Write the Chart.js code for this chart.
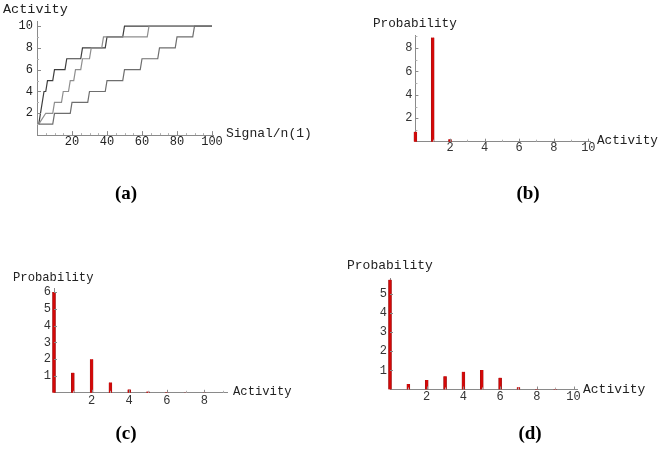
<!DOCTYPE html>
<html><head><meta charset="utf-8">
<script src="https://cdn.jsdelivr.net/npm/chart.js@4.4.0/dist/chart.umd.min.js"></script>
<style>
html,body{margin:0;padding:0;background:#fff;}
#wrap{position:relative;width:662px;height:460px;overflow:hidden;background:#fff;}
canvas{position:absolute;left:0;top:0;}
.cap{position:absolute;font:bold 19px "Liberation Serif","Times New Roman",serif;color:#000;transform:translate(-50%,-50%);white-space:nowrap;}
</style></head><body>
<div id="wrap">
<canvas id="ca" width="662" height="460" style="width:662px;height:460px"></canvas>
<canvas id="cb" width="662" height="460" style="width:662px;height:460px"></canvas>
<canvas id="cc" width="662" height="460" style="width:662px;height:460px"></canvas>
<canvas id="cd" width="662" height="460" style="width:662px;height:460px"></canvas>
<div class="cap" style="left:126px;top:193px">(a)</div>
<div class="cap" style="left:528px;top:193px">(b)</div>
<div class="cap" style="left:126px;top:433px">(c)</div>
<div class="cap" style="left:530px;top:433px">(d)</div>
</div>
<script>
// ---- data: panel (a) activity vs signal (step curves, vertices)
const signalA   = [1,4,5,6,9,10,16,17,25,26,39,40,49,50,100];
const activityA = [1,4,4,5,5,6,6,7,7,8,8,9,9,10,10];
const signalB   = [1,5,9,10,14,15,18,19,21,22,25,26,30,31,37,38,63,64,100];
const activityB = [1,2,2,3,3,4,4,5,5,6,6,7,7,8,8,9,9,10,10];
const signalC   = [1,9,10,19,20,29,30,39,40,49,50,59,60,69,70,79,80,89,90,100];
const activityC = [1,1,2,2,3,3,4,4,5,5,6,6,7,7,8,8,9,9,10,10];
const ticksA_x = [20,40,60,80,100];
const ticksA_y = [2,4,6,8,10];

// ---- data: panels (b), (c), (d) probability vs activity
const activityBins_b = [0,1,2,3,4,5,6,7,8,9,10];
const probability_b  = [0.85,8.9,0.2,0,0,0,0,0,0,0,0];
const activityBins_c = [0,1,2,3,4,5,6,7,8];
const probability_c  = [6.0,1.2,2.0,0.62,0.2,0.08,0.03,0.02,0.02];
const activityBins_d = [0,1,2,3,4,5,6,7,8,9,10];
const probability_d  = [5.75,0.29,0.5,0.69,0.93,1.02,0.62,0.12,0.02,0.02,0];
const ticksB_x = [2,4,6,8,10], ticksB_y = [2,4,6,8];
const ticksC_x = [2,4,6,8],    ticksC_y = [1,2,3,4,5,6];
const ticksD_x = [2,4,6,8,10], ticksD_y = [1,2,3,4,5];

const MONO = '"Liberation Mono","Courier New",monospace';
const W = 662, H = 460, WY = 30, HX = 20;

function decor(spec){
  return {
    id:'decor',
    afterDraw(chart){
      const {ctx, chartArea:a, scales:{x,y}} = chart;
      ctx.save();
      ctx.strokeStyle = '#8a8a8a';
      ctx.lineWidth = 1;
      ctx.beginPath();
      spec.xMajor.forEach(v=>{const p=Math.round(x.getPixelForValue(v))+0.5; ctx.moveTo(p,a.bottom); ctx.lineTo(p,a.bottom-spec.majorLen);});
      spec.yMajor.forEach(v=>{const p=Math.round(y.getPixelForValue(v))+0.5; ctx.moveTo(a.left,p); ctx.lineTo(a.left+spec.majorLen,p);});
      ctx.stroke();
      ctx.strokeStyle = '#b0b0b0';
      ctx.beginPath();
      spec.xMinor.forEach(v=>{const p=Math.round(x.getPixelForValue(v))+0.5; ctx.moveTo(p,a.bottom); ctx.lineTo(p,a.bottom-spec.minorLen);});
      spec.yMinor.forEach(v=>{const p=Math.round(y.getPixelForValue(v))+0.5; ctx.moveTo(a.left,p); ctx.lineTo(a.left+spec.minorLen,p);});
      ctx.stroke();
      ctx.fillStyle = '#222';
      ctx.textBaseline = 'middle';
      ctx.textAlign = 'left';
      spec.titles.forEach(t=>{ctx.font = t.size+'px '+MONO; ctx.fillText(t.text, t.x, t.y);});
      ctx.restore();
    }
  };
}

function makePanel(id, spec, type, datasets){
  const a = spec.area;
  new Chart(document.getElementById(id), {
    type: type,
    data: {datasets: datasets},
    options: {
      responsive:false, animation:false, devicePixelRatio:1,
      layout:{padding:{left:a.L-WY, right:W-a.R, top:a.T, bottom:H-a.B-HX}},
      plugins:{legend:{display:false}, tooltip:{enabled:false}},
      scales:{
        x:{type:'linear', min:spec.xmin, max:spec.xmax, offset:false,
           afterBuildTicks:s=>{s.ticks = spec.xMajor.map(v=>({value:v}));},
           afterFit:s=>{s.height=HX; s.paddingLeft=0; s.paddingRight=0;},
           grid:{display:true, offset:false, drawOnChartArea:false, drawTicks:false},
           border:{display:true, color:'#8a8a8a', width:1},
           ticks:{autoSkip:false, maxRotation:0, padding:spec.xPad, color:spec.tickColor,
                  font:{family:MONO, size:spec.tickSize, lineHeight:1}}},
        y:{type:'linear', min:spec.ymin, max:spec.ymax,
           afterBuildTicks:s=>{s.ticks = spec.yMajor.map(v=>({value:v}));},
           afterFit:s=>{s.width=WY; s.paddingTop=0; s.paddingBottom=0;},
           grid:{display:true, drawOnChartArea:false, drawTicks:false},
           border:{display:true, color:'#8a8a8a', width:1},
           ticks:{autoSkip:false, padding:spec.yPad, color:spec.tickColor,
                  font:{family:MONO, size:spec.tickSize, lineHeight:1}}}
      }
    },
    plugins:[decor(spec)]
  });
}

function pts(xs, ys){ return xs.map((v,i)=>({x:v, y:ys[i]})); }
function lineSet(xs, ys, color){
  return {data:pts(xs,ys), showLine:true, borderColor:color, borderWidth:1.2,
          pointRadius:0, tension:0, fill:false, clip:false};
}
function barSet(xs, ys){
  return {data:pts(xs,ys), backgroundColor:'#d40808', borderColor:'#8a1414',
          borderWidth:{left:0.5,right:0.5,top:0,bottom:0}, barThickness:3, clip:false};
}
const odd = [1,3,5,7,9];

// (a)
makePanel('ca', {
  area:{L:37, T:21.7, R:213.75, B:135.1}, xmin:0, xmax:101, ymin:0, ymax:10.4,
  xMajor:ticksA_x, yMajor:ticksA_y,
  xMinor:[5,10,15,25,30,35,45,50,55,65,70,75,85,90,95], yMinor:[1,3,5,7,9],
  majorLen:4, minorLen:2, xPad:0.6, yPad:4, tickColor:'#222', tickSize:12,
  titles:[{text:'Activity', x:3, y:9, size:13.5},{text:'Signal/n(1)', x:226, y:134, size:13}]
}, 'scatter', [
  lineSet(signalC, activityC, '#6e6e6e'),
  lineSet(signalB, activityB, '#8e8e8e'),
  lineSet(signalA, activityA, '#3e3e3e')
]);

// (b)
makePanel('cb', {
  area:{L:415.4, T:35.2, R:590.1, B:141.7}, xmin:0, xmax:10.1, ymin:0, ymax:9.1,
  xMajor:ticksB_x, yMajor:ticksB_y, xMinor:odd, yMinor:odd,
  majorLen:3, minorLen:2, xPad:0.6, yPad:3, tickColor:'#333', tickSize:12,
  titles:[{text:'Probability', x:373, y:23.5, size:12.7},{text:'Activity', x:597, y:141, size:12.7}]
}, 'bar', [barSet(activityBins_b, probability_b)]);

// (c)
makePanel('cc', {
  area:{L:54, T:288.6, R:227, B:392.8}, xmin:0, xmax:9.2, ymin:0, ymax:6.2,
  xMajor:ticksC_x, yMajor:ticksC_y, xMinor:odd, yMinor:[],
  majorLen:3, minorLen:2, xPad:2.2, yPad:3, tickColor:'#333', tickSize:12,
  titles:[{text:'Probability', x:13, y:278, size:12.2},{text:'Activity', x:233, y:392, size:12.2}]
}, 'bar', [barSet(activityBins_c, probability_c)]);

// (d)
makePanel('cd', {
  area:{L:390, T:278.3, R:577.2, B:389.5}, xmin:0, xmax:10.2, ymin:0, ymax:5.82,
  xMajor:ticksD_x, yMajor:ticksD_y, xMinor:odd, yMinor:[],
  majorLen:3, minorLen:2, xPad:1.5, yPad:3, tickColor:'#333', tickSize:12,
  titles:[{text:'Probability', x:347, y:265.5, size:13},{text:'Activity', x:583, y:390, size:13}]
}, 'bar', [barSet(activityBins_d, probability_d)]);
</script>
</body></html>
